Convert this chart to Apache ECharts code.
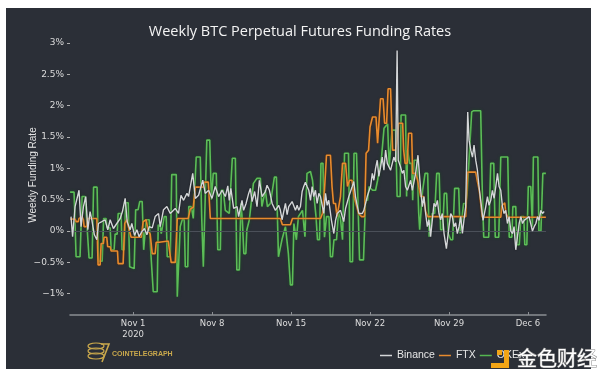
<!DOCTYPE html>
<html>
<head>
<meta charset="utf-8">
<script src="https://cdn.jsdelivr.net/npm/echarts@6/dist/echarts.min.js"></script>
<style>
html, body { margin: 0; padding: 0; background: #ffffff; }
#container { width: 600px; height: 375px; }
</style>
</head>
<body>
<div id="container"></div>
<script>
// days counted from Nov 1 2020, values in %
var tickDays = [0, 7, 14, 21, 28, 35];
var tickLabels = ['Nov 1\n2020', 'Nov 8', 'Nov 15', 'Nov 22', 'Nov 29', 'Dec 6'];
var rateTicks = [-1, -0.5, 0, 0.5, 1, 1.5, 2, 2.5, 3];

var binance = [[-5.51,0.23],[-5.37,-0.09],[-5.15,0.39],[-4.80,0.65],[-4.62,0.07],[-4.41,0.39],[-4.20,0.55],[-4.02,0.02],[-3.82,0.31],[-3.67,0.18],[-3.44,-0.06],[-3.22,-0.14],[-3.08,0.12],[-2.78,0.15],[-2.49,0.18],[-2.25,0.02],[-2.04,0.18],[-1.75,0.04],[-1.45,0.12],[-1.15,0.2],[-0.95,0.31],[-0.71,0.52],[-0.53,0.15],[-0.27,0.02],[-0.12,0.12],[0.12,-0.07],[0.33,0.02],[0.53,-0.09],[0.77,-0.01],[1.00,0.04],[1.22,-0.06],[1.42,0.07],[1.69,0.05],[1.95,0.23],[2.25,0.28],[2.40,0.07],[2.69,0.34],[2.99,0.39],[3.29,0.28],[3.44,0.26],[3.73,0.36],[4.02,0.28],[4.24,0.57],[4.47,0.49],[4.77,0.6],[4.91,0.55],[5.28,0.92],[5.51,0.52],[5.80,0.57],[6.17,0.81],[6.39,0.6],[6.69,0.65],[6.99,0.52],[7.28,0.71],[7.57,0.55],[7.88,0.65],[8.17,0.55],[8.39,0.72],[8.52,0.49],[8.66,0.68],[8.91,0.36],[9.21,0.39],[9.35,0.23],[9.65,0.49],[9.79,0.33],[10.01,0.44],[10.24,0.6],[10.39,0.68],[10.54,0.47],[10.77,0.63],[10.98,0.39],[11.19,0.81],[11.43,0.55],[11.72,0.63],[11.87,0.73],[12.08,0.65],[12.32,0.44],[12.46,0.41],[12.61,0.33],[12.76,0.31],[12.90,0.41],[13.05,0.33],[13.20,0.18],[13.35,0.2],[13.50,0.44],[13.65,0.26],[13.79,0.39],[13.94,0.36],[14.09,0.47],[14.23,0.44],[14.39,0.33],[14.54,0.41],[14.68,0.33],[14.83,0.39],[14.98,0.63],[15.12,0.71],[15.27,0.78],[15.42,0.71],[15.57,0.65],[15.72,0.49],[15.87,0.71],[16.01,0.55],[16.16,0.65],[16.31,0.44],[16.46,0.6],[16.61,0.55],[16.90,0.28],[17.05,0.6],[17.20,0.41],[17.34,0.49],[17.58,0.17],[17.79,-0.04],[17.94,0.17],[18.09,0.28],[18.38,0.33],[18.67,0.15],[18.83,0.36],[19.12,0.55],[19.42,0.71],[19.56,0.79],[19.71,0.55],[19.86,0.41],[20.01,0.28],[20.31,0.28],[20.45,0.33],[20.75,0.55],[20.89,0.63],[21.05,0.71],[21.20,0.92],[21.34,0.81],[21.49,1.0],[21.64,1.13],[21.78,0.87],[21.93,1.02],[22.08,1.18],[22.23,0.97],[22.38,1.29],[22.53,1.08],[22.82,0.97],[23.11,1.18],[23.27,1.1],[23.40,2.88],[23.50,1.13],[23.71,1.02],[23.86,0.92],[24.00,0.97],[24.15,0.71],[24.31,0.65],[24.60,0.81],[24.75,0.65],[25.04,0.92],[25.25,1.21],[25.49,0.65],[25.64,0.39],[25.78,0.55],[25.93,0.28],[26.08,0.07],[26.22,0.18],[26.37,-0.09],[26.67,0.44],[26.82,0.39],[26.97,0.49],[27.11,0.28],[27.26,0.18],[27.41,0.28],[27.56,-0.04],[27.77,-0.28],[28.00,0.07],[28.15,0.28],[28.30,0.23],[28.44,0.07],[28.59,0.13],[28.74,-0.04],[28.89,0.07],[29.04,0.23],[29.19,-0.04],[29.33,0.18],[29.48,0.39],[29.66,1.9],[29.78,1.45],[29.93,1.29],[30.08,1.18],[30.22,1.37],[30.37,1.13],[30.52,0.97],[30.66,0.71],[30.81,0.49],[31.02,0.17],[31.26,0.39],[31.41,0.55],[31.55,0.41],[31.70,0.49],[31.85,0.65],[32.00,0.52],[32.15,0.71],[32.30,0.92],[32.44,0.71],[32.59,0.65],[32.74,0.39],[32.88,0.28],[33.03,0.33],[33.18,0.12],[33.33,0.23],[33.48,0.0],[33.63,-0.04],[33.77,0.07],[33.92,-0.3],[34.07,-0.09],[34.22,0.12],[34.37,0.23],[34.52,0.12],[34.66,0.17],[34.81,0.15],[35.10,0.23],[35.40,0.0],[35.55,0.07],[35.70,0.12],[35.85,0.23],[35.99,0.17],[36.14,0.33],[36.29,0.28],[36.44,0.31]];

var ftx = [[-5.59,0.19],[-5.15,0.19],[-5.06,0.15],[-4.86,0.15],[-4.80,0.2],[-4.53,0.23],[-4.41,0.18],[-4.35,0.07],[-4.11,0.07],[-4.04,0.2],[-3.22,0.2],[-3.11,-0.54],[-2.93,-0.54],[-2.84,-0.2],[-2.64,-0.2],[-2.58,-0.1],[-2.34,-0.1],[-2.26,-0.25],[-2.04,-0.25],[-1.95,-0.32],[-1.39,-0.32],[-1.33,-0.52],[-0.89,-0.52],[-0.75,0.12],[-0.58,0.18],[-0.40,0.05],[-0.18,-0.1],[0.71,-0.1],[0.89,0.15],[1.15,0.18],[1.33,0.0],[1.51,-0.05],[1.69,-0.36],[1.95,-0.36],[2.04,-0.18],[2.31,-0.18],[2.40,-0.16],[3.11,-0.16],[3.20,-0.28],[3.37,-0.5],[3.73,-0.5],[3.91,0.2],[4.88,0.2],[5.06,0.35],[5.33,0.38],[5.51,0.7],[6.22,0.7],[6.30,0.78],[6.66,0.78],[6.84,0.2],[13.05,0.2],[13.23,0.1],[13.94,0.1],[14.12,0.2],[16.61,0.2],[16.78,0.28],[16.96,0.65],[17.14,1.21],[17.49,1.21],[17.63,0.71],[17.76,0.44],[17.94,0.44],[18.07,0.23],[18.20,0.23],[18.38,0.55],[18.56,1.08],[18.83,1.08],[19.00,0.71],[19.18,0.81],[19.40,0.81],[19.58,0.55],[19.98,0.28],[20.25,0.23],[20.51,0.23],[20.65,1.24],[20.87,1.29],[21.00,1.66],[21.22,1.82],[21.53,1.82],[21.67,1.4],[21.80,1.4],[21.93,2.11],[22.16,2.11],[22.29,1.72],[22.47,1.72],[22.60,2.27],[22.82,2.27],[22.91,1.77],[23.00,1.29],[23.27,1.29],[23.44,1.5],[23.53,1.72],[23.89,1.72],[23.98,1.29],[24.11,1.08],[24.29,1.08],[24.42,1.56],[24.69,1.56],[24.78,0.92],[25.04,0.92],[25.22,0.81],[25.49,0.55],[25.75,0.55],[25.93,0.31],[26.11,0.23],[29.48,0.23],[29.57,0.6],[29.66,0.94],[30.37,0.94],[30.50,0.81],[30.68,0.65],[30.81,0.65],[30.95,0.22],[32.59,0.22],[32.68,0.4],[32.94,0.45],[33.03,0.3],[33.21,0.22],[36.59,0.22]];

var okex = [[-5.59,0.62],[-5.24,0.62],[-5.06,-0.41],[-4.71,-0.41],[-4.53,0.55],[-4.26,0.55],[-4.17,0.3],[-4.00,0.3],[-3.91,-0.43],[-3.64,-0.43],[-3.51,0.7],[-3.20,0.7],[-3.06,-0.48],[-2.75,-0.48],[-2.62,0.2],[-2.40,0.2],[-2.31,0.05],[-2.04,0.05],[-1.95,-0.3],[-1.69,-0.3],[-1.60,-0.05],[-1.42,-0.05],[-1.33,0.28],[-1.07,0.28],[-0.98,-0.3],[-0.80,-0.3],[-0.67,0.45],[-0.44,0.45],[-0.31,-0.57],[0.09,-0.6],[0.22,0.34],[0.44,0.34],[0.58,0.47],[0.80,0.47],[0.93,-0.3],[1.07,-0.3],[1.15,0.18],[1.42,0.18],[1.55,-0.3],[1.69,-0.3],[1.78,-0.97],[2.13,-0.97],[2.22,0.1],[2.40,0.07],[2.49,-0.04],[2.66,-0.04],[2.75,0.23],[2.93,0.23],[3.02,-0.41],[3.29,-0.41],[3.42,0.9],[3.82,0.9],[3.91,-1.05],[4.08,-1.05],[4.17,0.07],[4.35,0.18],[4.53,0.18],[4.62,-0.57],[4.84,-0.57],[4.93,0.39],[5.15,0.39],[5.33,0.2],[5.59,1.18],[5.95,1.18],[6.08,0.2],[6.22,-0.57],[6.39,-0.57],[6.53,1.45],[6.79,1.45],[6.93,0.5],[7.10,0.92],[7.37,0.92],[7.50,-0.3],[7.73,-0.3],[7.81,0.65],[7.99,0.65],[8.17,0.33],[8.52,0.28],[8.79,1.16],[9.06,1.16],[9.19,-0.62],[9.41,-0.62],[9.55,0.44],[9.68,0.18],[9.81,-0.36],[9.99,-0.36],[10.08,0.02],[10.30,0.18],[10.66,0.76],[10.97,0.84],[11.28,0.84],[11.41,0.39],[11.72,0.65],[11.90,0.39],[12.17,0.44],[12.52,0.86],[12.70,0.86],[12.88,-0.41],[13.05,-0.41],[13.19,-0.14],[13.50,0.07],[13.76,-0.36],[13.94,-0.86],[14.12,-0.86],[14.25,0.12],[14.47,-0.14],[14.65,0.23],[15.01,0.33],[15.23,-0.09],[15.41,0.92],[15.72,0.95],[15.90,0.81],[16.07,0.81],[16.21,0.23],[16.34,-0.14],[16.52,-0.14],[16.65,1.08],[16.83,1.08],[16.96,-0.1],[17.14,0.23],[17.36,0.23],[17.49,-0.41],[17.67,-0.41],[17.80,-0.14],[18.03,-0.14],[18.20,0.3],[18.38,0.2],[18.56,-0.14],[18.74,1.24],[19.09,1.24],[19.23,-0.49],[19.45,-0.49],[19.58,1.24],[19.80,1.24],[19.94,0.39],[20.07,-0.46],[20.42,-0.46],[20.60,0.49],[20.78,0.49],[20.91,0.71],[21.22,0.65],[21.49,0.65],[21.67,0.81],[21.84,0.81],[22.02,1.18],[22.24,1.64],[22.56,1.71],[22.69,1.02],[22.82,1.02],[22.95,1.61],[23.27,1.61],[23.40,0.55],[23.67,0.55],[23.75,1.85],[24.15,1.85],[24.24,0.55],[24.33,1.29],[24.51,1.08],[24.69,1.08],[24.78,0.49],[24.91,1.13],[25.17,1.13],[25.31,0.3],[25.40,0.02],[25.57,0.02],[25.66,0.65],[25.88,0.92],[26.11,0.92],[26.24,-0.09],[26.37,-0.09],[26.51,0.28],[26.73,0.28],[26.91,0.92],[27.13,0.92],[27.26,0.02],[27.44,0.02],[27.58,0.6],[27.79,0.6],[27.93,-0.04],[28.15,-0.14],[28.33,-0.14],[28.50,0.68],[28.86,0.68],[28.99,-0.04],[29.13,-0.04],[29.30,0.44],[29.48,0.44],[29.61,0.6],[29.84,1.34],[30.01,1.9],[30.19,1.92],[30.81,1.92],[30.95,0.65],[31.08,-0.1],[31.52,-0.1],[31.70,1.08],[31.97,1.08],[32.10,-0.1],[32.41,-0.1],[32.59,1.18],[33.21,1.18],[33.34,-0.1],[33.57,-0.1],[33.66,0.39],[33.92,0.39],[34.01,-0.22],[34.23,-0.22],[34.37,0.23],[34.63,0.23],[34.72,-0.22],[34.90,-0.22],[35.03,0.71],[35.25,0.71],[35.39,0.07],[35.48,1.18],[35.88,1.18],[35.97,0.0],[36.15,0.0],[36.32,0.92],[36.59,0.92]];

var dom = document.getElementById("container");
var myChart = echarts.init(dom);
var option = null;

var gold = '#c9a84c';

option = {
    backgroundColor: '#ffffff',
    animation: false,
    title: {
        text: 'Weekly BTC Perpetual Futures Funding Rates',
        left: 'center',
        top: 19,
        textStyle: {
            color: '#f4f4f4',
            fontSize: 14.5,
            fontWeight: 'normal',
            fontFamily: '"Open Sans", sans-serif'
        }
    },
    graphic: [
        // dark card
        {type: 'rect', z: -10, shape: {x: 6, y: 8, width: 585, height: 361}, style: {fill: '#2b2f37'}},
        // y axis title
        {type: 'text', x: 33, y: 175, rotation: Math.PI / 2,
            style: {text: 'Weekly Funding Rate', fill: '#e6e6e6', font: '10px "Liberation Sans"', align: 'center', verticalAlign: 'middle'}},
        // cointelegraph mark
        {type: 'ellipse', shape: {cx: 96, cy: 346, rx: 8, ry: 3}, style: {fill: 'none', stroke: gold, lineWidth: 1.2}},
        {type: 'ellipse', shape: {cx: 96, cy: 351, rx: 8, ry: 3}, style: {fill: 'none', stroke: gold, lineWidth: 1.2}},
        {type: 'ellipse', shape: {cx: 96, cy: 356, rx: 8, ry: 3}, style: {fill: 'none', stroke: gold, lineWidth: 1.2}},
        {type: 'polyline', shape: {points: [[101, 344], [109, 344], [102, 362]]}, style: {fill: 'none', stroke: gold, lineWidth: 1.6}},
        {type: 'text', x: 112, y: 351, style: {text: 'COINTELEGRAPH', fill: gold, font: 'bold 7px "Liberation Sans"'}},
        // watermark
        {type: 'rect', z: 50, shape: {x: 497, y: 350, width: 5, height: 5}, style: {fill: '#f2a516'}},
        {type: 'rect', z: 50, shape: {x: 504, y: 350, width: 5, height: 18}, style: {fill: '#f2a516'}},
        {type: 'rect', z: 50, shape: {x: 491, y: 363, width: 18, height: 5}, style: {fill: '#f2a516'}},
        {type: 'text', z: 50, x: 517, y: 348, style: {text: '金色财经', fill: '#ffffff', stroke: '#8a8a8a', lineWidth: 1, font: '20px "Noto Sans CJK SC"'}}
    ],
    legend: {
        data: ['Binance', 'FTX', 'OKEx'],
        left: 375,
        top: 345,
        icon: 'rect',
        itemWidth: 12,
        itemHeight: 1.5,
        itemGap: 4,
        textStyle: {color: '#e6e6e6', fontSize: 10.5, fontFamily: '"Liberation Sans", sans-serif'}
    },
    grid: {left: 70, right: 54, top: 43, bottom: 60},
    xAxis: {
        type: 'value',
        min: -5.6,
        max: 36.6,
        axisLine: {onZero: false, lineStyle: {color: '#8b8e93', width: 1.5}},
        axisTick: {customValues: tickDays, inside: true, length: 3, lineStyle: {color: '#8b8e93'}},
        axisLabel: {
            customValues: tickDays,
            formatter: function (v) { return tickLabels[tickDays.indexOf(v)]; },
            color: '#dedede',
            fontSize: 8.5,
            fontFamily: '"DejaVu Sans", sans-serif',
            lineHeight: 11,
            margin: 3
        },
        splitLine: {show: false}
    },
    yAxis: {
        type: 'value',
        min: -1.34,
        max: 3,
        axisLine: {show: false, onZero: false},
        axisTick: {show: true, customValues: rateTicks, length: 3, lineStyle: {color: '#b0b0b0'}},
        axisLabel: {
            customValues: rateTicks,
            formatter: function (v) { return (v < 0 ? '\u2212' + (-v) : v) + '%'; },
            color: '#dcdcdc',
            fontSize: 9,
            fontFamily: '"DejaVu Sans", sans-serif',
            margin: 6
        },
        splitLine: {show: false}
    },
    series: [
        {
            name: 'Binance',
            type: 'line',
            data: binance,
            symbol: 'none',
            z: 5,
            itemStyle: {color: '#d4d6d8'},
            lineStyle: {color: '#d4d6d8', width: 1.4, shadowColor: 'rgba(0,0,0,0.5)', shadowBlur: 2}
        },
        {
            name: 'FTX',
            type: 'line',
            data: ftx,
            symbol: 'none',
            z: 4,
            itemStyle: {color: '#e88b2e'},
            lineStyle: {color: '#e88b2e', width: 1.6, shadowColor: 'rgba(90,40,0,0.8)', shadowBlur: 2}
        },
        {
            name: 'OKEx',
            type: 'line',
            data: okex,
            symbol: 'none',
            z: 3,
            itemStyle: {color: '#54b650'},
            lineStyle: {color: '#5cbd57', width: 1.6, shadowColor: '#1a4d22', shadowBlur: 3},
            markLine: {
                silent: true,
                symbol: ['none', 'none'],
                label: {show: false},
                lineStyle: {color: '#4b5059', type: 'solid', width: 1},
                data: [{yAxis: 0}]
            }
        }
    ]
};

if (option && typeof option === "object") {
    myChart.setOption(option, true);
}
window.onresize = function () {
    myChart.resize();
};
</script>
</body>
</html>
